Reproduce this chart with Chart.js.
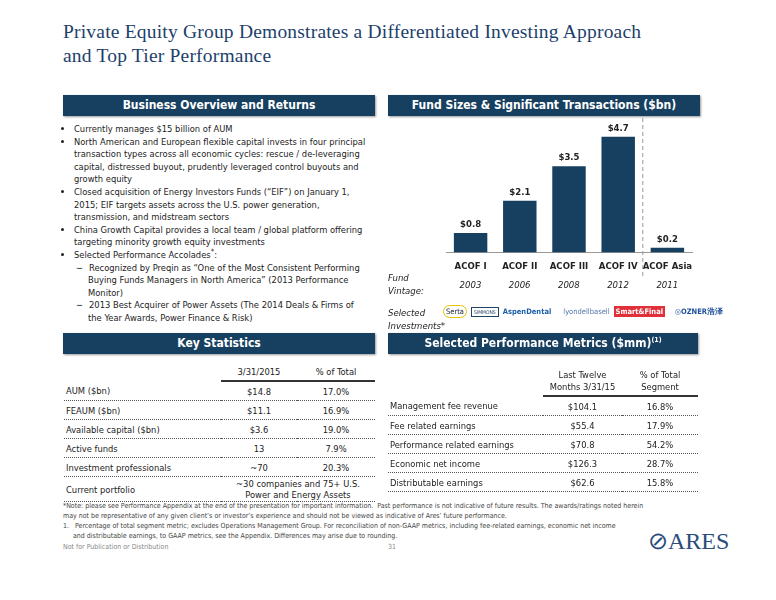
<!DOCTYPE html>
<html><head><meta charset="utf-8">
<script src="https://cdn.jsdelivr.net/npm/chart.js@4/dist/chart.umd.min.js"></script>
<style>
body{margin:0;width:776px;height:600px;background:#fff;position:relative;overflow:hidden;font-family:"DejaVu Sans Condensed","Liberation Sans",Arial,sans-serif;color:#222}
.abs{position:absolute}
.title{left:63px;top:20px;font-family:"Liberation Serif",serif;font-size:19.5px;color:#1d3f6b;line-height:24px;letter-spacing:0.2px}
.hdr{background:#173f60;color:#fff;font-weight:bold;font-size:12px;text-align:center;line-height:21px;height:21px;box-shadow:1px 1px 2px #999}
ul{margin:0;padding-left:10px;font-size:9.3px;line-height:12.6px}
li{margin:0}
sup{line-height:0}
ul ul{padding-left:14px;list-style:none}
ul ul li::before{content:"\2212";margin-left:-12px;margin-right:6px}
table{border-collapse:collapse;font-size:9.3px}
td{border-bottom:1px dotted #555;height:18px;padding:0 2px}
th{font-weight:normal;border-bottom:2px solid #333;padding:2px;line-height:12px}
.foot{font-size:7px;color:#444;line-height:9.5px}
</style></head><body>
<div class="abs title">Private Equity Group Demonstrates a Differentiated Investing Approach<br>and Top Tier Performance</div>
<div class="abs hdr" style="left:63px;top:95px;width:312px">Business Overview and Returns</div>
<div class="abs hdr" style="left:388px;top:95px;width:312px">Fund Sizes &amp; Significant Transactions ($bn)</div>
<div class="abs" style="left:64px;top:123px;width:305px">
<ul>
<li>Currently manages $15 billion of AUM</li>
<li>North American and European flexible capital invests in four principal transaction types across all economic cycles: rescue / de-leveraging capital, distressed buyout, prudently leveraged control buyouts and growth equity</li>
<li>Closed acquisition of Energy Investors Funds (“EIF”) on January 1, 2015; EIF targets assets across the U.S. power generation, transmission, and midstream sectors</li>
<li>China Growth Capital provides a local team / global platform offering targeting minority growth equity investments</li>
<li>Selected Performance Accolades<sup>*</sup>:
<ul><li>Recognized by Preqin as “One of the Most Consistent Performing Buying Funds Managers in North America” (2013 Performance Monitor)</li>
<li>2013 Best Acquirer of Power Assets (The 2014 Deals &amp; Firms of the Year Awards, Power Finance &amp; Risk)</li></ul></li>
</ul></div>

<canvas id="fundChart" class="abs" style="left:420px;top:114px;width:296px;height:162px"></canvas>
<div class="abs" style="left:388px;top:271px;font-size:9.5px;font-style:italic;line-height:13px">Fund<br>Vintage:</div>
<div id="years" class="abs" style="left:0;top:279px;font-size:9.5px;font-style:italic"></div>
<div class="abs" style="left:388px;top:306px;font-size:9.5px;font-style:italic;line-height:13px">Selected<br>Investments*</div>
<div class="abs" style="left:443px;top:305px;font-size:7.5px;display:flex;gap:4px;align-items:center">
<span style="border:1px solid #e5c400;border-radius:8px;padding:1px 2px;color:#123">Serta</span>
<span style="border:1px solid #246;padding:1px 2px;font-size:5px;color:#246">SIMMONS</span>
<span style="color:#1a5ea8;font-weight:bold">AspenDental</span>
<span style="color:#5577aa;margin-left:8px">lyondellbasell</span>
<span style="background:#e0303a;color:#fff;font-weight:bold;padding:1px 2px">Smart&amp;Final</span>
<span style="color:#1f4f9a;font-weight:bold;margin-left:6px">◎OZNER浩泽</span>
</div>

<div class="abs hdr" style="left:63px;top:333px;width:312px">Key Statistics</div>
<div class="abs hdr" style="left:388px;top:333px;width:310px">Selected Performance Metrics ($mm)<sup style="font-size:7px">(1)</sup></div>

<table class="abs" style="left:64px;top:364px;width:311px">
<tr><th style="border:none"></th><th style="width:72px">3/31/2015</th><th style="width:74px">% of Total</th></tr>
<tbody id="keyBody"></tbody></table>
<table class="abs" style="left:388px;top:367px;width:310px">
<tr><th style="border:none"></th><th style="width:75px">Last Twelve<br>Months 3/31/15</th><th style="width:72px">% of Total<br>Segment</th></tr>
<tbody id="perfBody"></tbody></table>

<div class="abs foot" style="left:63px;top:502px;width:590px">*Note: please see Performance Appendix at the end of the presentation for important information.&nbsp; Past performance is not indicative of future results. The awards/ratings noted herein may not be representative of any given client’s or investor’s experience and should not be viewed as indicative of Ares’ future performance.</div>
<div class="abs foot" style="left:63px;top:522px;width:590px">1.&nbsp;&nbsp; Percentage of total segment metric; excludes Operations Management Group. For reconciliation of non-GAAP metrics, including fee-related earnings, economic net income<br>&nbsp;&nbsp;&nbsp;&nbsp; and distributable earnings, to GAAP metrics, see the Appendix. Differences may arise due to rounding.</div>
<div class="abs foot" style="left:63px;top:543px;color:#888">Not for Publication or Distribution</div>
<div class="abs foot" style="left:388px;top:543px;color:#888">31</div>
<div class="abs" style="left:648px;top:527px;font-family:'Liberation Serif',serif;font-size:24px;color:#2a4d7c">⊘ARES</div>

<script>
// ========================
// DATA
// ========================
const funds = ["ACOF I", "ACOF II", "ACOF III", "ACOF IV", "ACOF Asia"];
const fundSizes = [0.8, 2.1, 3.5, 4.7, 0.2];
const vintages = ["2003", "2006", "2008", "2012", "2011"];

const keyLabels = ["AUM ($bn)", "FEAUM ($bn)", "Available capital ($bn)", "Active funds", "Investment professionals", "Current portfolio"];
const keyValues = ["$14.8", "$11.1", "$3.6", "13", "~70", "~30 companies and 75+ U.S. Power and Energy Assets"];
const keyPct = ["17.0%", "16.9%", "19.0%", "7.9%", "20.3%", ""];

const perfLabels = ["Management fee revenue", "Fee related earnings", "Performance related earnings", "Economic net income", "Distributable earnings"];
const perfValues = ["$104.1", "$55.4", "$70.8", "$126.3", "$62.6"];
const perfPct = ["16.8%", "17.9%", "54.2%", "28.7%", "15.8%"];

// ========================
// TABLES
// ========================
function fillTable(id, labels, vals, pcts) {
  const body = document.getElementById(id);
  labels.forEach((l, i) => {
    const tr = document.createElement("tr");
    const span = pcts[i] === "" ? ' colspan="2"' : "";
    tr.innerHTML = `<td${span ? ' style="height:24px"' : ""}>${l}</td><td style="text-align:center;line-height:11px"${span}>${vals[i]}</td>` +
      (span ? "" : `<td style="text-align:center">${pcts[i]}</td>`);
    body.appendChild(tr);
  });
}
fillTable("keyBody", keyLabels, keyValues, keyPct);
fillTable("perfBody", perfLabels, perfValues, perfPct);

// ========================
// CHART
// ========================
const navy = "#173f60";

const labelPlugin = {
  id: "extras",
  afterDatasetsDraw(chart) {
    const ctx = chart.ctx;
    const meta = chart.getDatasetMeta(0);
    ctx.save();
    ctx.fillStyle = "#222";
    ctx.font = "bold 9.5px 'DejaVu Sans Condensed', Arial";
    ctx.textAlign = "center";
    meta.data.forEach((bar, i) => {
      ctx.fillText("$" + fundSizes[i].toFixed(1), bar.x, bar.y - 6);
    });
    // dashed divider between ACOF IV and ACOF Asia
    const x = (meta.data[3].x + meta.data[4].x) / 2;
    ctx.strokeStyle = "#999";
    ctx.setLineDash([4, 3]);
    ctx.beginPath();
    ctx.moveTo(x, 4);
    ctx.lineTo(x, chart.height);
    ctx.stroke();
    ctx.restore();

    // vintage years placed under each category
    const canvasBox = chart.canvas.getBoundingClientRect();
    const yrs = document.getElementById("years");
    yrs.innerHTML = "";
    meta.data.forEach((bar, i) => {
      const s = document.createElement("span");
      s.className = "abs";
      s.style.left = (canvasBox.left + bar.x - 11) + "px";
      s.textContent = vintages[i];
      yrs.appendChild(s);
    });
  }
};

new Chart(document.getElementById("fundChart"), {
  type: "bar",
  data: {
    labels: funds,
    datasets: [{
      data: fundSizes,
      backgroundColor: navy,
      barPercentage: 0.68,
      categoryPercentage: 1
    }]
  },
  options: {
    responsive: false,
    animation: false,
    layout: { padding: { left: 26, right: 24, top: 8 } },
    plugins: { legend: { display: false }, tooltip: { enabled: false } },
    scales: {
      y: { display: false, min: 0, max: 5.3 },
      x: {
        grid: { display: false, drawTicks: true, tickLength: 4, color: "#999" },
        border: { color: "#999" },
        ticks: { color: "#222", maxRotation: 0, autoSkip: false, font: { size: 9.5, weight: "bold", family: "'DejaVu Sans Condensed', Arial" }, padding: 4 }
      }
    }
  },
  plugins: [labelPlugin]
});
</script>
</body></html>
